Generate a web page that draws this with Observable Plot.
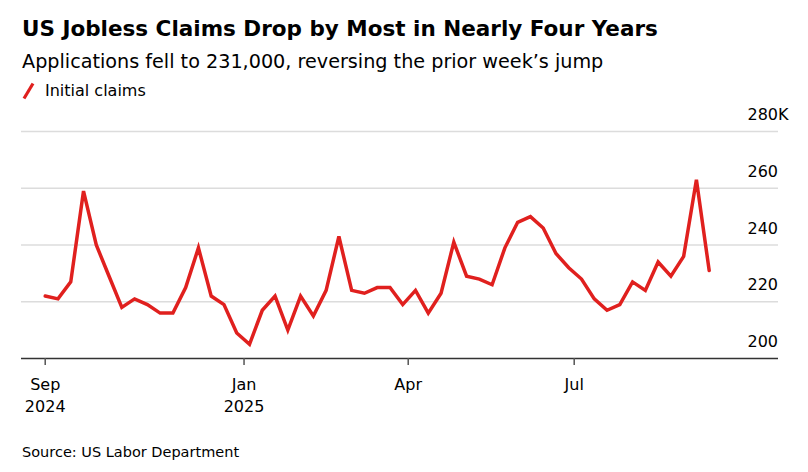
<!DOCTYPE html>
<html>
<head>
<meta charset="utf-8">
<script src="https://cdn.jsdelivr.net/npm/d3@7"></script>
<script src="https://cdn.jsdelivr.net/npm/@observablehq/plot@0.6"></script>
<style>
  html, body { margin: 0; padding: 0; background: #fff; }
  body { font-family: "DejaVu Sans", "Liberation Sans", Arial, sans-serif; color: #000; }
  #wrap { position: relative; width: 808px; height: 472px; overflow: hidden; }
  .t { position: absolute; left: 22px; white-space: nowrap; line-height: 1; }
  #title { top: 18px; font-size: 21.5px; font-weight: bold; }
  #subtitle { top: 52px; font-size: 19.2px; }
  #legend { top: 83px; font-size: 16px; left: 22px; }
  #legend svg { position: absolute; left: 0; top: -1px; }
  #legend span { position: absolute; left: 23px; top: 0; }
  #source { top: 445px; font-size: 14.5px; }
  #chart { position: absolute; left: 0; top: 100px; }
</style>
</head>
<body>
<div id="wrap">
  <div class="t" id="title">US Jobless Claims Drop by Most in Nearly Four Years</div>
  <div class="t" id="subtitle">Applications fell to 231,000, reversing the prior week’s jump</div>
  <div class="t" id="legend"><svg width="14" height="18"><line x1="2" y1="16.5" x2="11" y2="1.5" stroke="#e0201e" stroke-width="3.2"/></svg><span>Initial claims</span></div>
  <div id="chart"></div>
  <div class="t" id="source">Source: US Labor Department</div>
</div>
<script>
// Weekly initial jobless claims (thousands), week ending dates
const weekEnding = [
  "2024-09-14","2024-09-21","2024-09-28","2024-10-05","2024-10-12","2024-10-19","2024-10-26",
  "2024-11-02","2024-11-09","2024-11-16","2024-11-23","2024-11-30","2024-12-07","2024-12-14",
  "2024-12-21","2024-12-28","2025-01-04","2025-01-11","2025-01-18","2025-01-25","2025-02-01",
  "2025-02-08","2025-02-15","2025-02-22","2025-03-01","2025-03-08","2025-03-15","2025-03-22",
  "2025-03-29","2025-04-05","2025-04-12","2025-04-19","2025-04-26","2025-05-03","2025-05-10",
  "2025-05-17","2025-05-24","2025-05-31","2025-06-07","2025-06-14","2025-06-21","2025-06-28",
  "2025-07-05","2025-07-12","2025-07-19","2025-07-26","2025-08-02","2025-08-09","2025-08-16",
  "2025-08-23","2025-08-30","2025-09-06","2025-09-13"
];
const initialClaims = [
  222, 221, 227, 259, 240, 229, 218,
  221, 219, 216, 216, 225, 239, 222,
  219, 209, 205, 217, 222, 210, 222,
  215, 224, 243, 224, 223, 225, 225,
  219, 224, 216, 223, 241, 229, 228,
  226, 239, 248, 250, 246, 237, 232,
  228, 221, 217, 219, 227, 224, 234,
  229, 236, 263, 231
];

// Axis ticks and labels
const xDomain = ["2024-09-01", "2025-10-21"];
const xTickDates = ["2024-09-14", "2025-01-01", "2025-04-01", "2025-07-01"];
const xTickLabels = ["Sep\n2024", "Jan\n2025", "Apr", "Jul"];
const yTicks = [200, 220, 240, 260, 280];
const yTickLabels = ["200", "220", "240", "260", "280K"];

const parse = s => new Date(s + "T00:00:00Z");
const data = weekEnding.map((d, i) => ({date: parse(d), value: initialClaims[i]}));
const xTicks = xTickDates.map(parse);
const xLabelMap = new Map(xTicks.map((d, i) => [+d, xTickLabels[i]]));
const yLabelMap = new Map(yTicks.map((v, i) => [v, yTickLabels[i]]));

const chart = Plot.plot({
  width: 808,
  height: 320,
  marginLeft: 21,
  marginRight: 30,
  marginTop: 31,
  marginBottom: 62,
  style: {fontFamily: '"DejaVu Sans", "Liberation Sans", Arial, sans-serif', background: "transparent", overflow: "visible"},
  x: {type: "utc", domain: xDomain.map(parse), axis: null},
  y: {domain: [200, 280], axis: null},
  marks: [
    Plot.ruleY(yTicks.filter(v => v > 200), {stroke: "#dcdcdc", strokeWidth: 1.3}),
    Plot.ruleY([200], {stroke: "#333", strokeWidth: 1.5}),
    Plot.axisX(xTicks, {
      tickSize: 7,
      tickPadding: 9,
      stroke: "#555",
      strokeWidth: 1.5,
      fill: "#000",
      fontSize: 16,
      lineHeight: 1.36,
      tickFormat: d => xLabelMap.get(+d)
    }),
    Plot.text(yTicks, {
      y: d => d,
      text: d => yLabelMap.get(d),
      frameAnchor: "right",
      textAnchor: "start",
      dx: -31,
      dy: -16.5,
      fontSize: 16,
      fill: "#000"
    }),
    Plot.line(data, {
      x: "date",
      y: "value",
      stroke: "#e0201e",
      strokeWidth: 3.5,
      strokeLinejoin: "miter",
      strokeMiterlimit: 4
    })
  ]
});
document.getElementById("chart").appendChild(chart);
</script>
</body>
</html>
